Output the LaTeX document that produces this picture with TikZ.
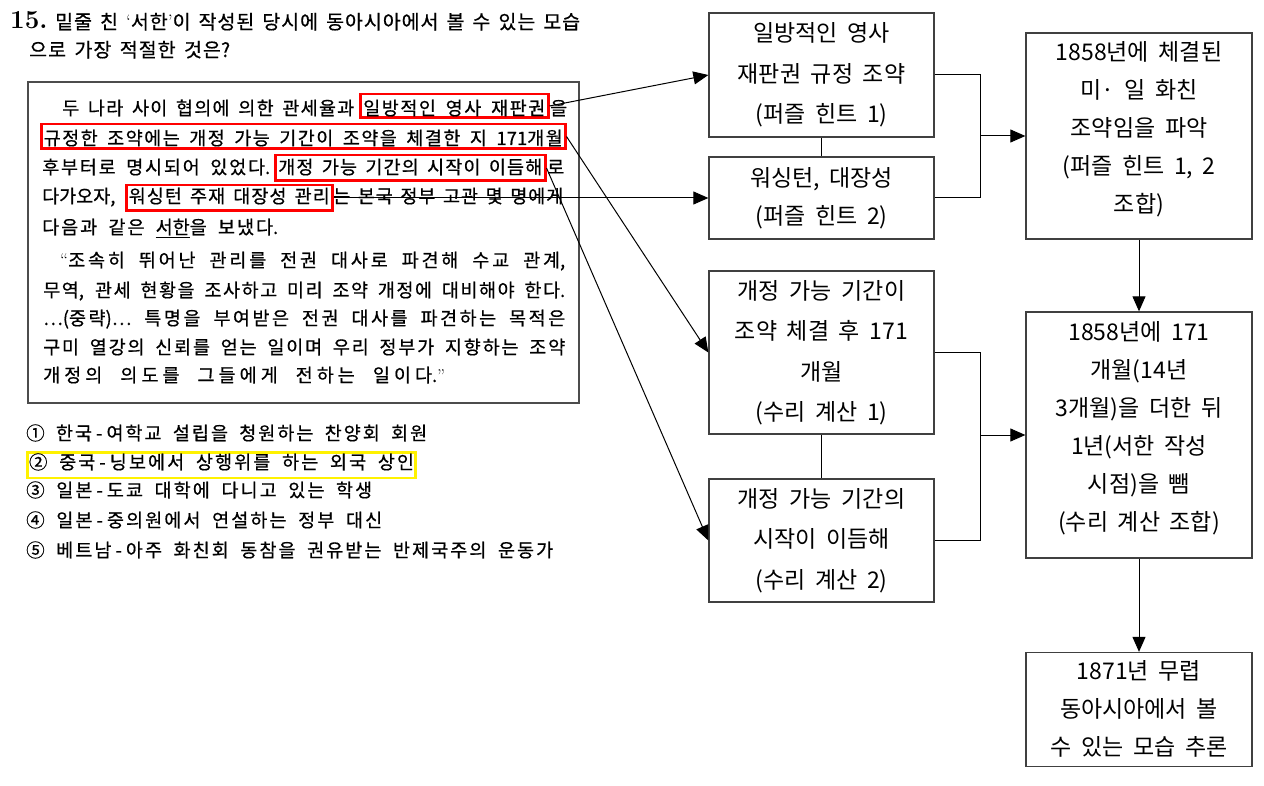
\documentclass[tikz,border=0pt]{standalone}
\usepackage{fontspec}
\usetikzlibrary{arrows.meta,calc}
\newfontfamily\kr{Noto Sans CJK KR}
\newfontfamily\krd{Noto Sans CJK KR}[RawFeature={embolden=0.6}]
% inter-character stretch between Hangul syllables (for justified lines)
\newcommand\hgstretch{0.15em}
\newcount\hgcnt
\hgcnt="AC00
\loop
  \XeTeXcharclass\hgcnt=10
  \ifnum\hgcnt<"D7A3
  \advance\hgcnt by 1
\repeat
\XeTeXinterchartoks 10 10 = {\nobreak\hskip 0pt plus \hgstretch\relax}
\XeTeXinterchartokenstate=1
\newcommand\passf{\krd\fontsize{18.5}{22}\selectfont\spaceskip=0.25em plus 0.5em minus 0.05em\relax}
\newcommand\titlef{\krd\fontsize{19.5}{24}\selectfont\spaceskip=0.25em plus 0.5em minus 0.05em\relax}
\newcommand\boxf{\kr\fontsize{23}{40.5}\selectfont\spaceskip=0.42em\relax\def\hgstretch{0em}}
\newcommand\boxg{\kr\fontsize{23}{38}\selectfont\spaceskip=0.42em\relax\def\hgstretch{0em}}
\newcommand\jl[2]{\hbox to #1pt{#2}}
\newcommand\qo[1]{{\rmfamily #1}}
\begin{document}
\begin{tikzpicture}[x=1pt,y=-1pt,
  ptxt/.style={inner sep=0pt, anchor=base west, font=\passf},
  ttxt/.style={inner sep=0pt, anchor=base west, font=\titlef},
  redbox/.style={ptxt, draw=red, line width=2.5pt, inner ysep=0pt},
  fbox/.style={draw=black!75, line width=1.3pt, inner sep=0pt, align=center, font=\boxf, minimum width=225pt},
  gbox/.style={draw=black!75, line width=1.3pt, inner sep=0pt, font=\boxg, minimum width=226pt},
  conn/.style={draw=black, line width=1pt},
  arr/.style={conn, -{Triangle[length=15pt,width=13pt]}}]
\fill[white] (0,0) rectangle (1264,786);
\useasboundingbox (0,0) rectangle (1264,786);

% question
\node[inner sep=0pt, anchor=base west, font=\rmfamily\bfseries\fontsize{26}{28}\selectfont] (qn) at (10,29) {15.};
\node[ttxt] (t1) at (55,29) {\jl{525}{밑줄 친 \qo{‘}서한\qo{’}이 작성된 당시에 동아시아에서 볼 수 있는 모습}};
\node[ttxt] (t2) at (29,57) {\jl{201}{으로 가장 적절한 것은?}};

% passage frame
\node[draw=black!70, line width=1.5pt, minimum width=551pt, minimum height=321pt, inner sep=0pt] (pbox) at (303.5,242.5) {};

% passage lines
\node[ptxt] (l1a) at (62,115) {\jl{292}{두 나라 사이 협의에 의한 관세율과}};
\node[redbox, inner xsep=3pt, text height=20.75pt, text depth=2.75pt] (r1) at (359,115) {\jl{182}{일방적인 영사 재판권}};
\node[ptxt] (l1b) at (550,115) {을};

\node[redbox, inner xsep=2.5pt, text height=20.75pt, text depth=3.75pt] (r2) at (40,145) {\jl{519}{규정한 조약에는 개정 가능 기간이 조약을 체결한 지 171개월}};

\node[ptxt] (l3a) at (42,174) {\jl{228}{후부터로 명시되어 있었다.}};
\node[redbox, inner xsep=3pt, text height=18.75pt, text depth=6.75pt] (r3) at (274,174) {\jl{264}{개정 가능 기간의 시작이 이듬해}};
\node[ptxt] (l3b) at (547,174) {로};

\node[ptxt] (l4a) at (42,203) {다가오자,};
\node[redbox, inner xsep=2.5pt, text height=17.75pt, text depth=7.75pt] (r4) at (125,203) {\jl{201}{워싱턴 주재 대장성 관리}};
\node[ptxt] (l4b) at (333,203) {\jl{230}{는 본국 정부 고관 몇 명에게}};

\node[ptxt] (l5) at (42,234) {\jl{236}{다음과 같은 \underline{서한}을 보냈다.}};
\node[ptxt] (l6) at (60,267) {\jl{505}{\qo{“}조속히 뛰어난 관리를 전권 대사로 파견해 수교 관계,}};
\node[ptxt] (l7) at (43,297) {\jl{522}{무역, 관세 현황을 조사하고 미리 조약 개정에 대비해야 한다.}};
\node[ptxt] (l8) at (43,325) {\jl{522}{…(중략)… 특명을 부여받은 전권 대사를 파견하는 목적은}};
\node[ptxt] (l9) at (43,354) {\jl{522}{구미 열강의 신뢰를 얻는 일이며 우리 정부가 지향하는 조약}};
\node[ptxt] (l10) at (43,382) {\jl{402}{개정의 의도를 그들에게 전하는 일이다.\qo{”}}};

% options
\node[ptxt] (o1) at (26,440) {\jl{401}{① 한국\kern4pt-\kern4pt여학교 설립을 청원하는 찬양회 회원}};
\node[ptxt, draw=yellow, line width=2.5pt, inner xsep=1.5pt, inner ysep=0pt, text height=16.75pt, text depth=8.75pt] (o2) at (26.25,469) {\jl{385}{② 중국\kern4pt-\kern4pt닝보에서 상행위를 하는 외국 상인}};
\node[ptxt] (o3) at (26,497) {\jl{346}{③ 일본\kern4pt-\kern4pt도쿄 대학에 다니고 있는 학생}};
\node[ptxt] (o4) at (26,527) {\jl{356}{④ 일본\kern4pt-\kern4pt중의원에서 연설하는 정부 대신}};
\node[ptxt] (o5) at (26,557) {\jl{527}{⑤ 베트남\kern4pt-\kern4pt아주 화친회 동참을 권유받는 반제국주의 운동가}};

% right boxes
\node[fbox, minimum height=124pt] (A) at (821.5,75) {일방적인 영사\\재판권 규정 조약\\(퍼즐 힌트 1)};
\node[gbox, minimum width=225pt, minimum height=82pt] (B) at (821.5,198) {\begin{tabular}{@{}c@{}}워싱턴, 대장성\\(퍼즐 힌트 2)\end{tabular}};
\node[fbox, minimum height=163pt] (F) at (821.5,352.5) {개정 가능 기간이\\조약 체결 후 171\\개월\\(수리 계산 1)};
\node[fbox, minimum height=123pt] (G) at (821.5,540.5) {개정 가능 기간의\\시작이 이듬해\\(수리 계산 2)};
\node[gbox, minimum height=206pt] (C) at (1139,136) {\begin{tabular}{@{}c@{}}1858년에 체결된\\미· 일 화친\\조약임을 파악\\(퍼즐 힌트 1, 2\\조합)\\[14pt]\end{tabular}};
\node[gbox, minimum height=246pt] (D) at (1139,435) {\begin{tabular}{@{}c@{}}1858년에 171\\개월(14년\\3개월)을 더한 뒤\\1년(서한 작성\\시점)을 뺌\\(수리 계산 조합)\\[14pt]\end{tabular}};
\node[gbox, minimum height=113pt] (E) at (1139,709.5) {\begin{tabular}{@{}c@{}}1871년 무렵\\동아시아에서 볼\\수 있는 모습 추론\end{tabular}};

% connectors
\coordinate (j1) at (980,136);
\coordinate (j2) at (980,435);
\draw[arr] (r1.east) -- (A.west);
\draw[arr] (r2.east) -- (F.west);
\draw[arr] (r3.east) -- (G.west);
\draw[arr] (r4.east) -- (B.west);
\draw[conn] (A.south) -- (B.north);
\draw[conn] (F.south) -- (G.north);
\draw[conn] (A.east) -| (j1) |- (B.east);
\draw[arr] (j1) -- (C.west);
\draw[conn] (F.east) -| (j2) |- (G.east);
\draw[arr] (j2) -- (D.west);
\draw[arr] (C.south) -- (D.north);
\draw[arr] (D.south) -- (E.north);
\end{tikzpicture}
\end{document}
